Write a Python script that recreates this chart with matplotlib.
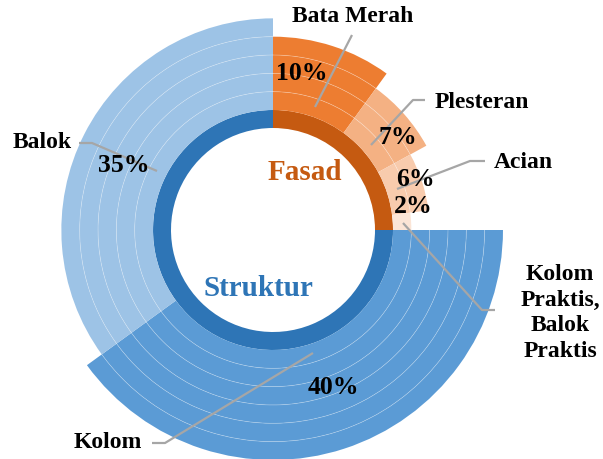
import numpy as np
import matplotlib.pyplot as plt

plt.rcParams["font.family"] = ["Liberation Serif", "DejaVu Serif"]

# data
groups = ["Fasad", "Struktur"]
group_values = [25, 75]
items = ["Bata Merah", "Plesteran", "Acian", "Kolom\nPraktis,\nBalok\nPraktis", "Kolom", "Balok"]
item_values = [10, 7, 6, 2, 40, 35]
item_rings = [4, 3, 2, 1, 6, 5]  # how many outer rings each slice spans

# styles
group_colors = ["#C55A11", "#2E75B6"]
item_colors = ["#ED7D31", "#F4B183", "#F8CBAD", "#FBE5D6", "#5B9BD5", "#9DC3E6"]
leader = "#A6A6A6"

# layout (axes units == pixels, centre of donut at origin)
hole, base, step = 102, 120, 18.33
group_pos = [(32, 57), (-15, -58)]
pct_pos = [(29, 156), (125, 93), (142, 50), (140, 23), (60, -158), (-149, 65)]
name_pos = [(80, 213), (209, 128), (250, 67), (287, -83), (-165, -213), (-231, 87)]
leader_pts = [
    [(79, 195), (42, 123)],
    [(152, 130), (140, 130), (98, 85)],
    [(212, 69), (197, 69), (124, 41)],
    [(222, -80), (209, -80), (130, 7)],
    [(-121, -213), (-108, -213), (40, -123)],
    [(-194, 87), (-181, 87), (-116, 59)],
]

fig = plt.figure(figsize=(6.03, 4.59), dpi=100)
ax = fig.add_axes([0, 0, 1, 1])

ax.pie(group_values, radius=base, colors=group_colors, startangle=90,
       counterclock=False, wedgeprops=dict(width=base - hole, linewidth=0))

for k in range(1, max(item_rings) + 1):
    cols = [c if n >= k else "none" for c, n in zip(item_colors, item_rings)]
    ax.pie(item_values, radius=base + k * step, colors=cols, startangle=90,
           counterclock=False, wedgeprops=dict(width=step, linewidth=0))

# thin white ring separators inside each slice
total = sum(item_values)
cum = np.concatenate([[0], np.cumsum(item_values)])
for i, n in enumerate(item_rings):
    t = np.radians(np.linspace(90 - 360 * cum[i] / total, 90 - 360 * cum[i + 1] / total, 200))
    for k in range(1, n):
        r = base + k * step
        ax.plot(r * np.cos(t), r * np.sin(t), color="white", lw=0.5, alpha=0.35)

for pts in leader_pts:
    xs, ys = zip(*pts)
    ax.plot(xs, ys, color=leader, lw=1.6, solid_capstyle="butt")

for g, (x, y), c in zip(groups, group_pos, group_colors):
    ax.text(x, y, g, ha="center", va="center", fontsize=21, fontweight="bold", color=c)

for v, (x, y) in zip(item_values, pct_pos):
    ax.text(x, y, f"{v}%", ha="center", va="center", fontsize=18.5, fontweight="bold")

for name, (x, y) in zip(items, name_pos):
    ax.text(x, y, name, ha="center", va="center", fontsize=17, fontweight="bold",
            linespacing=1.3)

ax.set_xlim(-273, 330)
ax.set_ylim(-229, 230)
ax.set_aspect("equal")
ax.axis("off")

fig.savefig("out.png", dpi=100)
